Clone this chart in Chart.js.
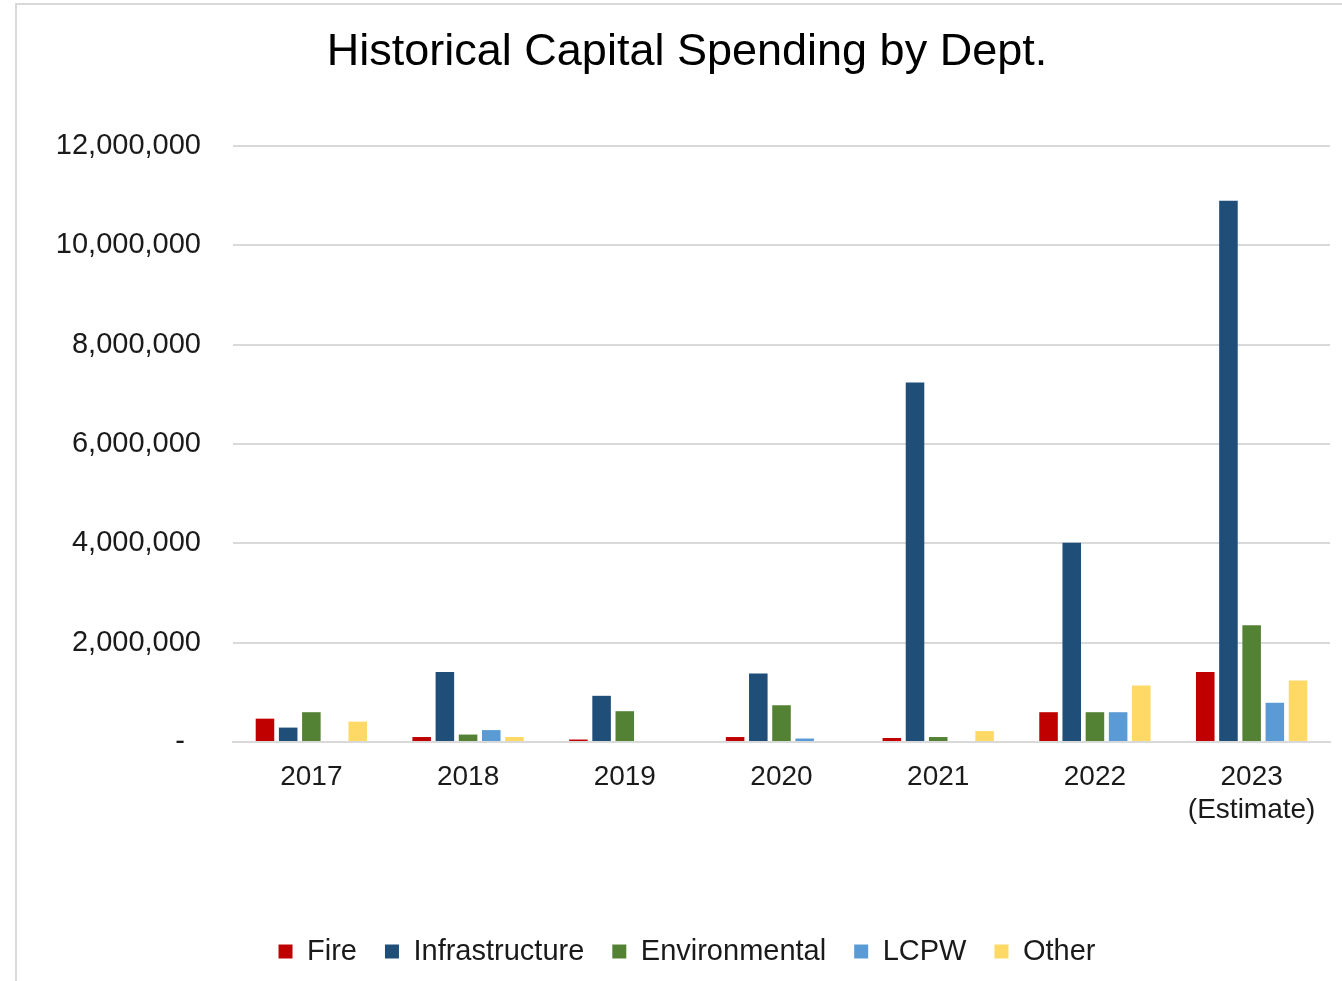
<!DOCTYPE html>
<html>
<head>
<meta charset="utf-8">
<title>Historical Capital Spending by Dept.</title>
<script src="https://cdn.jsdelivr.net/npm/chart.js@4"></script>
<style>
  html, body { margin: 0; padding: 0; background: #fff; overflow: hidden; }
  #wrap { position: relative; width: 1342px; height: 981px; }
  #frame {
    position: absolute; left: 15px; top: 3px; width: 1400px; height: 1000px;
    border: 2px solid #d9d9d9; box-sizing: border-box; pointer-events: none;
  }
  canvas { position: absolute; left: 0; top: 0; }
</style>
</head>
<body>
<div id="wrap">
  <canvas id="grafica-capital" width="1342" height="981"></canvas>
  <div id="frame"></div>
</div>
<script>
// categorias (años) y gasto por departamento
var anios = ['2017', '2018', '2019', '2020', '2021', '2022', ['2023', '(Estimate)']];

var Fire           = [470000, 100000,  50000, 100000,   80000,  600000, 1410000];
var Infrastructure = [290000, 1410000, 930000, 1380000, 7240000, 4010000, 10900000];
var Environmental  = [600000, 150000, 620000, 740000,  100000,  600000, 2350000];
var LCPW           = [0,      240000,  0,      70000,   0,       600000,  790000];
var Other          = [410000, 100000,  0,      0,       220000,  1140000, 1240000];

var yTicks = [0, 2000000, 4000000, 6000000, 8000000, 10000000, 12000000];

var fuente = '"Liberation Sans", Arial, sans-serif';

function serie(label, data, color) {
    return {
        label: label,
        data: data,
        backgroundColor: color,
        borderWidth: 0,
        categoryPercentage: 0.74,
        barPercentage: 0.8
    };
}

var datos = {
    labels: anios,
    datasets: [
        serie('Fire', Fire, '#c00000'),
        serie('Infrastructure', Infrastructure, '#1f4e79'),
        serie('Environmental', Environmental, '#548235'),
        serie('LCPW', LCPW, '#5b9bd5'),
        serie('Other', Other, '#ffd966')
    ]
};

var opciones = {
    responsive: false,
    animation: false,
    layout: { padding: { left: 44, right: 12, top: 0, bottom: 5 } },
    scales: {
        x: {
            grid: { display: false, drawTicks: false },
            border: { display: true, color: '#d9d9d9', width: 2 },
            ticks: {
                color: '#1a1a1a',
                font: { family: fuente, size: 28 },
                padding: 18,
                maxRotation: 0,
                autoSkip: false
            },
            afterFit: function(scale) { scale.height = 167; }
        },
        y: {
            min: 0,
            max: 12000000,
            afterBuildTicks: function(scale) {
                scale.ticks = yTicks.map(function(v) { return { value: v }; });
            },
            grid: { color: '#d9d9d9', lineWidth: 2, drawTicks: false },
            border: { display: false },
            ticks: {
                color: '#1a1a1a',
                font: { family: fuente, size: 29 },
                padding: 32,
                callback: function(v) {
                    return v === 0 ? '-  ' : v.toLocaleString('en-US');
                }
            },
            afterFit: function(scale) { scale.width = 189; }
        }
    },
    plugins: {
        title: {
            display: true,
            text: 'Historical Capital Spending by Dept.',
            color: '#000',
            font: { family: fuente, size: 45, weight: 'normal' },
            padding: { top: 26, bottom: 66 }
        },
        legend: {
            position: 'bottom',
            labels: {
                color: '#1a1a1a',
                font: { family: fuente, size: 29 },
                boxWidth: 14,
                boxHeight: 14,
                padding: 28
            }
        },
        tooltip: { enabled: false }
    }
};

var ctx = document.getElementById('grafica-capital').getContext('2d');
var grafica = new Chart(ctx, {
    type: 'bar',
    data: datos,
    options: opciones
});
</script>
</body>
</html>
